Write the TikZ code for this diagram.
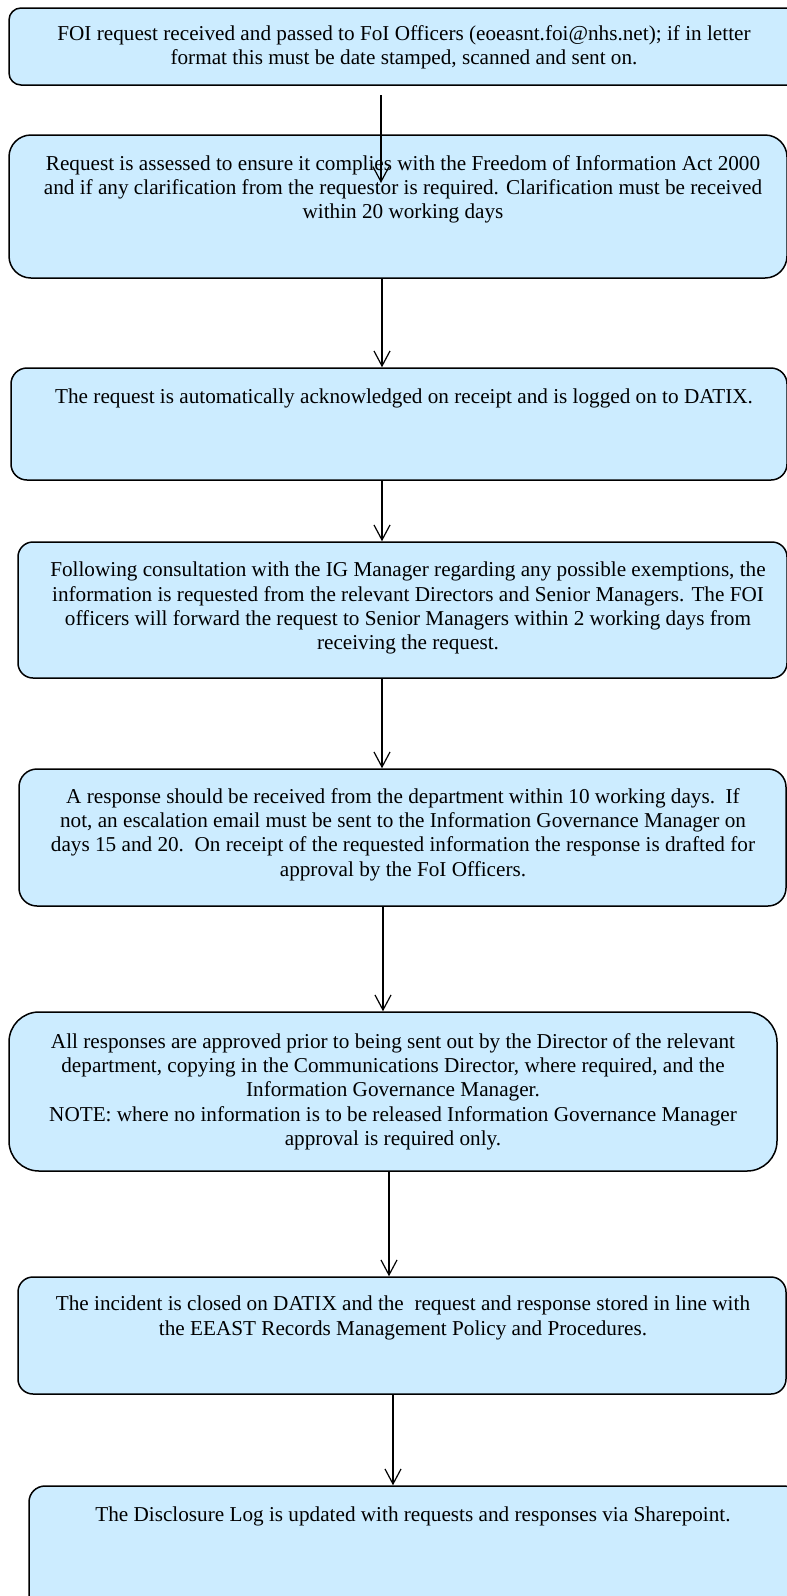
\documentclass[tikz,border=0pt]{standalone}
\usepackage{fontspec}
\setmainfont{Liberation Serif}
\usetikzlibrary{arrows.meta,calc}
\definecolor{boxfill}{RGB}{204,236,255}
\tikzset{
  stepbox/.style={draw=black, line width=1.5pt, fill=boxfill, rectangle, inner sep=0pt},
  txt/.style={font=\fontsize{21.2}{24.3}\selectfont, align=center, anchor=north, inner sep=0pt,
              yshift=17.01pt, execute at begin node=\strut},
  arr/.style={line width=1.2pt, -{Straight Barb[length=15pt,width=16pt,line width=1.2pt]}}
}
\begin{document}
\begin{tikzpicture}[x=1pt,y=-1pt]
\clip (0,0) rectangle (787,1596);
\fill[white] (0,0) rectangle (787,1596);
% boxes
\node[stepbox, rounded corners=12pt, minimum width=791pt, minimum height=77pt] (b1) at (404.5,46.5) {};
\node[stepbox, rounded corners=22pt, minimum width=778pt, minimum height=143pt] (b2) at (398,206.5) {};
\node[stepbox, rounded corners=16pt, minimum width=776pt, minimum height=112pt] (b3) at (399,424) {};
\node[stepbox, rounded corners=15pt, minimum width=769pt, minimum height=136pt] (b4) at (402.5,610) {};
\node[stepbox, rounded corners=18pt, minimum width=767pt, minimum height=137pt] (b5) at (402.5,837.5) {};
\node[stepbox, rounded corners=30pt, minimum width=768pt, minimum height=159pt] (b6) at (393,1091.5) {};
\node[stepbox, rounded corners=15pt, minimum width=768pt, minimum height=117pt] (b7) at (402,1335.5) {};
\node[stepbox, rounded corners=16pt, minimum width=771pt, minimum height=144pt] (b8) at (414.5,1558) {};
% texts
\node[txt] (t1) at (404,42) {FOI request received and passed to FoI Officers (eoeasnt.foi@nhs.net); if in letter\\format this must be date stamped, scanned and sent on.};
\node[txt] (t2) at (403,172) {Request is assessed to ensure it complies with the Freedom of Information Act 2000\\and if any clarification from the requestor is required. Clarification must be received\\within 20 working days};
\node[txt] (t3) at (404,403) {The request is automatically acknowledged on receipt and is logged on to DATIX.};
\node[txt] (t4) at (408,579) {Following consultation with the IG Manager regarding any possible exemptions, the\\information is requested from the relevant Directors and Senior Managers. The FOI\\officers will forward the request to Senior Managers within 2 working days from\\receiving the request.};
\node[txt] (t5) at (403,805) {A response should be received from the department within 10 working days.\ \ If\\not, an escalation email must be sent to the Information Governance Manager on\\days 15 and 20.\ \ On receipt of the requested information the response is drafted for\\approval by the FoI Officers.};
\node[txt] (t6) at (393,1050) {All responses are approved prior to being sent out by the Director of the relevant\\department, copying in the Communications Director, where required, and the\\Information Governance Manager.\\NOTE: where no information is to be released Information Governance Manager\\approval is required only.};
\node[txt] (t7) at (403,1313) {The incident is closed on DATIX and the\ \ request and response stored in line with\\the EEAST Records Management Policy and Procedures.};
\node[txt] (t8) at (413,1521) {The Disclosure Log is updated with requests and responses via Sharepoint.};
% connectors
\coordinate (s1) at (381,95);
\coordinate (e1) at (381,183);
\draw[arr] (s1) -- (e1);
\coordinate (x2) at (382,0);
\coordinate (x5) at (383,0);
\coordinate (x6) at (389,0);
\coordinate (x7) at (393,0);
\draw[arr] (b2.south -| x2) -- (b3.north -| x2);
\draw[arr] (b3.south -| x2) -- (b4.north -| x2);
\draw[arr] (b4.south -| x2) -- (b5.north -| x2);
\draw[arr] (b5.south -| x5) -- (b6.north -| x5);
\draw[arr] (b6.south -| x6) -- (b7.north -| x6);
\draw[arr] (b7.south -| x7) -- (b8.north -| x7);
\end{tikzpicture}
\end{document}
